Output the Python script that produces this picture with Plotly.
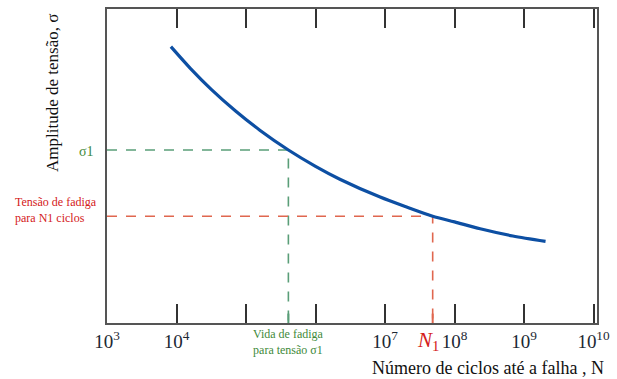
import math
import plotly.graph_objects as go

# S-N curve data (cycles, stress amplitude in arbitrary units)
cycles = [8.3e3, 1.58e4, 3.16e4, 7.08e4, 1.58e5, 4.07e5, 1.0e6, 2.24e6,
          8.5e6, 2.0e7, 4.85e7, 1.0e8, 2.34e8, 6.9e8, 2.04e9]
stress = [88.0, 81.1, 74.4, 67.5, 61.4, 55.1, 49.9, 45.8,
          40.1, 37.0, 34.0, 32.2, 30.0, 27.7, 26.0]

# reference points
N_sigma1 = 4.07e5
sigma1 = 55.1
N1 = 4.85e7
sigma_N1 = 34.0

x_min_cycles = 1e3
tick_vals = [1e3, 1e4, 1e5, 1e6, 1e7, 1e8, 1e9, 1e10]
tick_text = ["10<sup>3</sup>", "10<sup>4</sup>", "", "", "10<sup>7</sup>",
             "10<sup>8</sup>", "10<sup>9</sup>", "10<sup>10</sup>"]

GREEN = "#5a9e78"
RED = "#e0674f"
BLUE = "#0d4fa3"
AX = "#555555"
serif = "Liberation Serif, Times New Roman, Times, serif"

fig = go.Figure()

# green dashed guide
fig.add_trace(go.Scatter(x=[x_min_cycles, N_sigma1, N_sigma1], y=[sigma1, sigma1, 0],
                         mode="lines", line=dict(color=GREEN, width=1.6, dash="10px,9px"),
                         hoverinfo="skip", showlegend=False))
# red dashed guide
fig.add_trace(go.Scatter(x=[x_min_cycles, N1, N1], y=[sigma_N1, sigma_N1, 0],
                         mode="lines", line=dict(color=RED, width=1.6, dash="10px,9px"),
                         hoverinfo="skip", showlegend=False))
# small colored ticks
fig.add_trace(go.Scatter(x=[N_sigma1, N_sigma1], y=[0, 3], mode="lines",
                         line=dict(color=GREEN, width=2), hoverinfo="skip", showlegend=False))
fig.add_trace(go.Scatter(x=[N1, N1], y=[0, 3], mode="lines",
                         line=dict(color=RED, width=2), hoverinfo="skip", showlegend=False))
# S-N curve
fig.add_trace(go.Scatter(x=cycles, y=stress, mode="lines",
                         line=dict(color=BLUE, width=3.2, shape="spline", smoothing=0.8),
                         showlegend=False))

fig.update_xaxes(type="log", range=[3, 10.05], tickvals=tick_vals, ticktext=tick_text,
                 ticks="inside", ticklen=19, tickwidth=1.5, tickcolor="#333333",
                 showline=True, linecolor=AX, linewidth=2, mirror="ticks",
                 showgrid=False, zeroline=False,
                 tickfont=dict(family=serif, size=19, color="#1c2833"))
fig.update_yaxes(range=[0, 100], showticklabels=False, ticks="",
                 showline=True, linecolor=AX, linewidth=2, mirror=True,
                 showgrid=False, zeroline=False)

annotations = [
    dict(text="Amplitude de tensão, σ", xref="paper", yref="paper", x=-0.110, y=0.733,
         xanchor="center", yanchor="middle",
         textangle=-90, showarrow=False, font=dict(family=serif, size=17, color="#111111")),
    dict(text="σ1", xref="paper", yref="paper", x=-0.022, y=0.547, xanchor="right",
         yanchor="middle", showarrow=False, font=dict(family=serif, size=14, color="#3f8a3a")),
    dict(text="Tensão de fadiga<br>para N1 ciclos", xref="paper", yref="paper", x=-0.192,
         y=0.359, xanchor="left", yanchor="middle", align="left", showarrow=False,
         font=dict(family=serif, size=12, color="#d42020")),
    dict(text="Vida de fadiga<br>para tensão σ1", xref="x", yref="paper",
         x=math.log10(N_sigma1), y=-0.060, xanchor="center", yanchor="middle",
         showarrow=False, font=dict(family=serif, size=12, color="#3f8a3a")),
    dict(text="<i>N</i><sub>1</sub>", xref="x", yref="paper", x=math.log10(N1), xshift=-5,
         y=-0.058, xanchor="center", yanchor="middle", showarrow=False,
         font=dict(family=serif, size=21, color="#d42020")),
    dict(text="Número de ciclos até a falha , N", xref="paper", yref="paper", x=0.778,
         y=-0.142, xanchor="center", yanchor="middle", showarrow=False, borderpad=0,
         font=dict(family=serif, size=18, color="#111111")),
]
fig.update_layout(width=617, height=379, margin=dict(l=107, r=20, t=7, b=56),
                  paper_bgcolor="white", plot_bgcolor="white", annotations=annotations)

fig.write_html("out.html")
